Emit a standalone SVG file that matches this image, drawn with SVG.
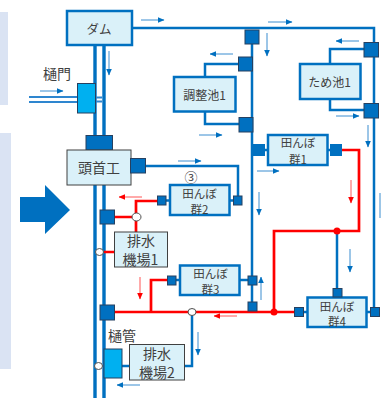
<svg xmlns="http://www.w3.org/2000/svg" width="381" height="398" viewBox="0 0 381 398">
<defs>
<marker id="ab" markerWidth="6.5" markerHeight="6" refX="6" refY="3" orient="auto" markerUnits="userSpaceOnUse"><path d="M0 0.2L6.5 3L0 5.8Z" fill="#0070C0"/></marker>
<marker id="ar" markerWidth="6.5" markerHeight="6" refX="6" refY="3" orient="auto" markerUnits="userSpaceOnUse"><path d="M0 0.2L6.5 3L0 5.8Z" fill="#FF0000"/></marker>
</defs>
<style>
text{font-family:"Noto Sans CJK JP","Liberation Sans",sans-serif;fill:#404040;text-anchor:middle;font-size:14px}
.f{font-size:11.5px}
.p{font-size:12px}
.w{fill:none;stroke:#0070C0;stroke-width:2.5}
.pipe{fill:none;stroke:#0070C0;stroke-width:3.4}
.w1{fill:none;stroke:#2E86CF;stroke-width:1.8}
.r{fill:none;stroke:#FF0000;stroke-width:2.7}
.fb{fill:none;stroke:#3A8DD0;stroke-width:1;marker-end:url(#ab)}
.fr{fill:none;stroke:#FF5555;stroke-width:1;marker-end:url(#ar)}
.bx{fill:#DAF1F9;stroke:#0070C0;stroke-width:2.5}
.gx{fill:#DAF1F9;stroke:#404040;stroke-width:1}
.sq{fill:#0070C0;stroke:#264060;stroke-width:1}
.sn{fill:#0070C0}
.gate{fill:#00B0F0;stroke:#264060;stroke-width:1}
.c{fill:#fff;stroke:#505050;stroke-width:1}
</style>
<rect x="0" y="12" width="8" height="93" fill="#DAE3F3"/>
<rect x="0" y="133" width="11" height="236" fill="#DAE3F3"/>
<path d="M20 197H45V185L70 210L45 234V222H20Z" fill="#0070C0"/>
<g id="connectors">
<path class="pipe" d="M95 46V398M104 46V398"/>
<path class="w1" d="M29 97H78M29 102H78M96 97.5H102M96 101.5H102"/>
<path class="w" d="M132 28H374V308"/>
<path class="w" d="M252 30V303"/>
<path class="w" d="M146 166H238V197"/>
<path class="w" d="M205 76V64H240M205 112V124H240"/>
<path class="w" d="M330 63V49H365M330 99V110H365"/>
<path class="w" d="M264 150H268M327 150H331"/>
<path class="w" d="M239 280H249M176 280H180M165 200.500H170M229 200.500H234"/>
<path class="w" d="M337 231V289"/>
<path class="w" d="M303 312H308M366 312H371"/>
<path class="w" d="M122 366H130M192 313V366H184"/>
<path class="r" d="M341 150H359V231H274V312"/>
<path class="r" d="M115 312H295M151 312V280H168"/>
<path class="r" d="M115 217H136M136 232V201H158M104 252H114"/>
<path class="fb" d="M141 20H164"/>
<path class="fb" d="M109 51V75"/>
<path class="fb" d="M40 91H63"/>
<path class="fb" d="M268 22H292"/>
<path class="fb" d="M267 33V56"/>
<path class="fb" d="M233 54H210"/>
<path class="fb" d="M359 41H336"/>
<path class="fb" d="M336 116H359"/>
<path class="fb" d="M368 125V147"/>
<path class="fb" d="M199 135H222"/>
<path class="fb" d="M257 171H279"/>
<path class="fb" d="M178 161H201"/>
<path class="fb" d="M259 192V215"/>
<path class="fb" d="M350 249V272"/>
<path class="fb" d="M261 300V277"/>
<path class="fb" d="M198 332V355"/>
<path class="fb" d="M140 385H117"/>
<path d="M380 193V218" fill="none" stroke="#3A8DD0" stroke-width="1"/>
<path class="fr" d="M142 197H119"/>
<path class="fr" d="M140 277V299"/>
<path class="fr" d="M351 180V203"/>
<path class="fr" d="M237 316H214"/>
<circle cx="274" cy="312" r="3.5" fill="#FF0000"/>
<circle cx="337" cy="231" r="3.5" fill="#FF0000"/>
</g>
<g id="dam"><rect class="bx" x="67" y="11" width="65" height="34"/><text x="99" y="34" style="font-size:12.500px">ダム</text></g>
<g id="gate1"><text x="57" y="78.500">樋門</text><rect class="gate" x="77.500" y="83.500" width="18" height="29.500"/></g>
<g id="headworks"><rect class="sq" x="86" y="135.500" width="26.500" height="14.500"/><rect class="gx" x="67" y="150" width="64" height="35"/><text x="99" y="173">頭首工</text><rect class="sq" x="130.500" y="158.500" width="15" height="14.500"/></g>
<g id="pond1"><rect class="bx" x="174" y="77" width="61.500" height="34.500"/><text class="p" x="204.500" y="99.500">調整池1</text><rect class="sq" x="238.500" y="57" width="14" height="14"/><rect class="sq" x="239" y="117.500" width="14" height="14.500"/></g>
<g id="pond2"><rect class="bx" x="300" y="64" width="60.500" height="35"/><text class="p" x="329.500" y="86.500">ため池1</text><rect class="sq" x="364" y="42.500" width="14.500" height="14.500"/><rect class="sq" x="364" y="103.500" width="14.500" height="14.500"/></g>
<g id="top-valve"><rect class="sq" x="245" y="30" width="14" height="14"/></g>
<g id="field1"><rect class="bx" x="268" y="135" width="59.500" height="30"/><text class="f" x="298" y="147">田んぼ</text><text class="f" x="298" y="163.500">群1</text><rect class="sn" x="253" y="144" width="12" height="12"/><rect class="sn" x="330" y="144" width="12" height="12"/></g>
<g id="field2"><rect class="bx" x="170" y="185" width="59.500" height="30"/><text class="f" x="199.500" y="197.500">田んぼ</text><text class="f" x="199.500" y="213.500">群2</text><rect class="sq" x="157.500" y="196" width="8.500" height="9"/><rect class="sq" x="233.500" y="196" width="8.500" height="9"/></g>
<g id="field3"><rect class="bx" x="180" y="265.500" width="59.500" height="29.500"/><text class="f" x="210.500" y="278">田んぼ</text><text class="f" x="210.500" y="293.500">群3</text><rect class="sq" x="167.500" y="276" width="8.500" height="9"/><rect class="sq" x="248" y="276" width="9" height="9"/><rect class="sq" x="248" y="302" width="9" height="9"/></g>
<g id="field4"><rect class="bx" x="307.500" y="297.500" width="59" height="29.500"/><text class="f" x="337" y="310.500">田んぼ</text><text class="f" x="337" y="325.500">群4</text><rect class="sq" x="333" y="288.500" width="9" height="8.500"/><rect class="sq" x="294.500" y="307.500" width="9" height="9"/><rect class="sq" x="370.500" y="307.500" width="9" height="9"/></g>
<g id="pump1"><rect class="sq" x="100" y="210" width="14.500" height="14"/><ellipse class="c" cx="136.500" cy="217" rx="4.500" ry="4"/><ellipse class="c" cx="99.500" cy="252" rx="4" ry="3.500"/><rect class="gx" x="114.500" y="232" width="53" height="35"/><text x="141" y="246">排水</text><text x="140.500" y="265">機場1</text></g>
<g id="junction"><rect class="sq" x="100" y="305" width="14.500" height="15"/><ellipse class="c" cx="192" cy="312" rx="4" ry="3.500"/></g>
<g id="pump2"><text x="122" y="341">樋管</text><rect class="gate" x="104" y="349" width="18" height="29"/><ellipse class="c" cx="98.500" cy="366" rx="4" ry="3.500"/><rect class="gx" x="129.500" y="344.500" width="55" height="35.500"/><text x="157" y="358.500">排水</text><text x="157" y="377.500">機場2</text></g>
<text x="191" y="181.500" style="font-size:13px">③</text>
</svg>
